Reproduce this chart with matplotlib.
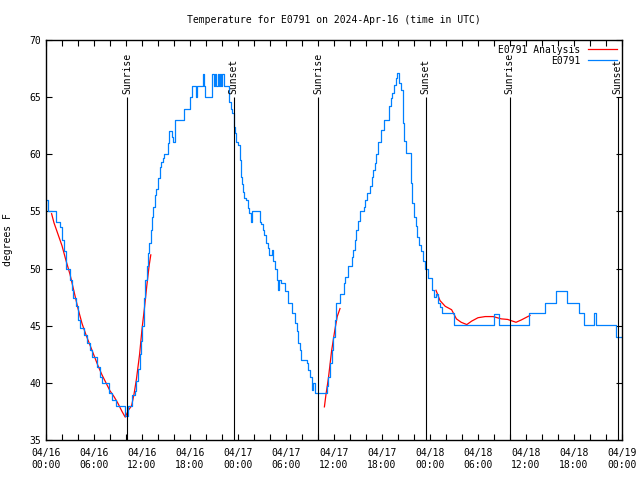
import matplotlib
matplotlib.use("Agg")
import matplotlib.pyplot as plt
from matplotlib.ticker import MultipleLocator

plt.rcParams['font.family'] = ['DejaVu Sans Mono']
plt.rcParams['font.size'] = 7

# hours since 2024-04-16 00:00 UTC
obs_hours = [0.0, 0.3, 1.2, 1.7, 2.0, 2.2, 2.5, 2.95, 3.2, 3.4, 3.7, 4.0, 4.3, 4.7, 5.1, 5.5,
             5.7, 6.4, 6.8, 7.0, 7.9, 8.3, 8.8, 9.9, 10.2, 10.8, 11.1, 11.3, 11.5, 11.7, 11.9,
             12.0, 12.2, 12.4, 12.6, 12.7, 12.9, 13.1, 13.3, 13.4, 13.6, 13.8, 14.0, 14.2, 14.4,
             14.6, 14.8, 15.3, 15.4, 15.8, 15.9, 16.1, 17.2, 18.0, 18.2, 18.7, 18.9, 19.4, 19.6,
             19.8, 19.9, 20.8, 20.95, 21.1, 21.3, 21.45, 21.6, 21.75, 21.9, 22.0, 22.2, 22.9, 23.1,
             23.3, 23.45, 23.6, 23.8, 24.0, 24.2, 24.3, 24.4, 24.5, 24.6, 24.8, 25.0, 25.2, 25.4,
             25.6, 25.8, 26.7, 26.9, 27.1, 27.3, 27.5, 27.7, 27.9, 28.2, 28.4, 28.6, 28.9, 29.0,
             29.1, 29.4, 29.9, 30.3, 30.7, 31.1, 31.4, 31.5, 31.7, 31.9, 32.6, 32.8, 33.0, 33.2,
             33.4, 33.6, 35.1, 35.3, 35.5, 35.7, 35.9, 36.1, 36.3, 36.7, 37.2, 37.4, 37.8, 38.2,
             38.4, 38.6, 38.8, 39.0, 39.25, 39.7, 39.9, 40.1, 40.5, 40.7, 40.9, 41.1, 41.3, 41.5,
             41.9, 42.2, 42.9, 43.1, 43.3, 43.5, 43.7, 43.9, 44.1, 44.35, 44.6, 44.8, 45.0, 45.6,
             45.8, 46.0, 46.2, 46.4, 46.6, 46.9, 47.1, 47.4, 47.8, 48.3, 48.5, 48.8, 49.0, 49.2,
             49.5, 51.0, 56.0, 56.6, 60.4, 62.4, 63.7, 65.1, 66.6, 67.2, 68.5, 68.7, 71.3, 72.0]
obs_temps = [56.0, 55.0, 54.1, 53.6, 52.5, 51.5, 50.0, 49.0, 48.1, 47.4, 46.7, 45.5, 44.8, 44.2, 43.5, 42.9,
             42.3, 41.4, 40.5, 40.0, 39.1, 38.5, 38.0, 37.1, 38.0, 38.9, 39.3, 40.2, 41.2, 42.5, 43.7,
             45.0, 47.4, 49.0, 50.2, 51.4, 52.2, 53.4, 54.5, 55.4, 56.4, 57.0, 57.9, 58.9, 59.3,
             59.7, 60.0, 61.0, 62.0, 61.5, 61.1, 63.0, 64.0, 65.0, 66.0, 65.0, 66.0, 66.0, 67.0,
             66.0, 65.0, 67.0, 66.0, 67.0, 66.0, 67.0, 66.0, 67.0, 66.0, 67.0, 66.0, 64.6, 64.0,
             63.6, 62.4, 61.9, 61.1, 60.8, 60.2, 59.5, 58.0, 57.4, 56.7, 56.2, 56.0, 55.3, 54.9,
             54.1, 55.0, 54.1, 53.9, 53.4, 52.9, 52.2, 51.8, 51.2, 51.6, 50.7, 50.0, 49.0, 48.1,
             49.0, 48.7, 48.0, 47.0, 46.1, 45.2, 44.5, 43.5, 42.9, 42.0, 41.7, 41.1, 40.5, 39.4,
             40.0, 39.1, 39.7, 40.5, 41.7, 42.9, 44.0, 45.5, 47.0, 47.8, 48.7, 49.3, 50.2, 51.0,
             51.6, 52.5, 53.4, 54.2, 55.0, 55.4, 56.0, 56.6, 57.2, 58.0, 58.6, 59.2, 60.0, 61.1,
             62.1, 63.0, 64.2, 64.9, 65.4, 66.1, 66.7, 67.1, 66.2, 65.6, 62.7, 61.2, 60.1, 57.5,
             55.7, 54.5, 53.7, 52.8, 52.1, 51.5, 50.7, 50.0, 49.2, 48.1, 47.5, 47.8, 47.0, 46.6,
             46.1, 45.1, 46.0, 45.1, 46.1, 47.0, 48.0, 47.0, 46.1, 45.1, 46.1, 45.1, 44.0, 44.0]

# analysis curve, three separate pieces
ana1_hours = [0.7, 1.0, 1.5, 2.0, 2.5, 3.0, 3.5, 4.0, 4.5, 5.0, 5.5, 6.0, 6.5, 7.0, 7.5, 8.0,
              8.5, 9.0, 9.5, 9.9, 10.3, 10.7, 11.0, 11.3, 11.7, 12.0, 12.3, 12.6, 12.9, 13.1]
ana1_temps = [54.8, 54.0, 53.0, 52.0, 50.7, 49.5, 48.0, 46.5, 45.2, 44.2, 43.3, 42.4, 41.5, 40.7, 40.0, 39.3,
              38.8, 38.2, 37.5, 37.0, 37.6, 38.0, 39.0, 40.3, 42.5, 44.7, 46.5, 48.5, 50.3, 51.2]
ana2_hours = [34.8, 35.0, 35.3, 35.7, 36.1, 36.4, 36.75]
ana2_temps = [37.9, 39.0, 40.4, 42.8, 44.6, 45.8, 46.5]
ana3_hours = [48.75, 49.25, 49.9, 50.7, 51.3, 51.9, 52.6, 53.2, 54.0, 54.9, 55.9, 56.9, 57.7, 58.75, 59.4, 60.5]
ana3_temps = [48.1, 47.2, 46.7, 46.4, 45.6, 45.3, 45.1, 45.4, 45.7, 45.8, 45.8, 45.6, 45.55, 45.3, 45.5, 45.9]

sun_hours = [10.15, 23.45, 34.05, 47.45, 57.95, 71.45]
sun_labels = ['Sunrise', 'Sunset', 'Sunrise', 'Sunset', 'Sunrise', 'Sunset']

tick_hours = list(range(0, 73, 6))
tick_labels = ['04/16\n00:00', '04/16\n06:00', '04/16\n12:00', '04/16\n18:00',
               '04/17\n00:00', '04/17\n06:00', '04/17\n12:00', '04/17\n18:00',
               '04/18\n00:00', '04/18\n06:00', '04/18\n12:00', '04/18\n18:00',
               '04/19\n00:00']

fig = plt.figure(figsize=(6.4, 4.8), dpi=100)
ax = fig.add_axes([46 / 640, 40 / 480, 576 / 640, 400 / 480])

ax.plot(ana1_hours, ana1_temps, color='#ff0000', lw=0.9, label='E0791 Analysis')
ax.plot(ana2_hours, ana2_temps, color='#ff0000', lw=0.9)
ax.plot(ana3_hours, ana3_temps, color='#ff0000', lw=0.9)
ax.plot(obs_hours, obs_temps, color='#0080ff', lw=0.9, drawstyle='steps-post', label='E0791')

for h, lab in zip(sun_hours, sun_labels):
    ax.vlines(h, 35, 65, color='black', lw=0.8)
    ax.text(h, 65.3, lab, rotation=90, ha='center', va='bottom')

ax.set_xlim(0, 72)
ax.set_ylim(35, 70)
ax.set_xticks(tick_hours)
ax.set_xticklabels(tick_labels)
ax.xaxis.set_minor_locator(MultipleLocator(2))
ax.yaxis.set_major_locator(MultipleLocator(5))
ax.tick_params(which='both', direction='in', top=True, right=True, length=4, width=0.8)
ax.tick_params(axis='x', pad=6)
for s in ax.spines.values():
    s.set_linewidth(1)

ax.set_ylabel('degrees F')
ax.yaxis.set_label_coords(-0.058, 0.5)
ax.set_title('Temperature for E0791 on 2024-Apr-16 (time in UTC)', fontsize=7, pad=12)

ax.legend(loc='upper right', frameon=False, markerfirst=False, handlelength=3,
          borderaxespad=0.1, labelspacing=0.1, handletextpad=0.8)

fig.savefig('out.png', dpi=100)
